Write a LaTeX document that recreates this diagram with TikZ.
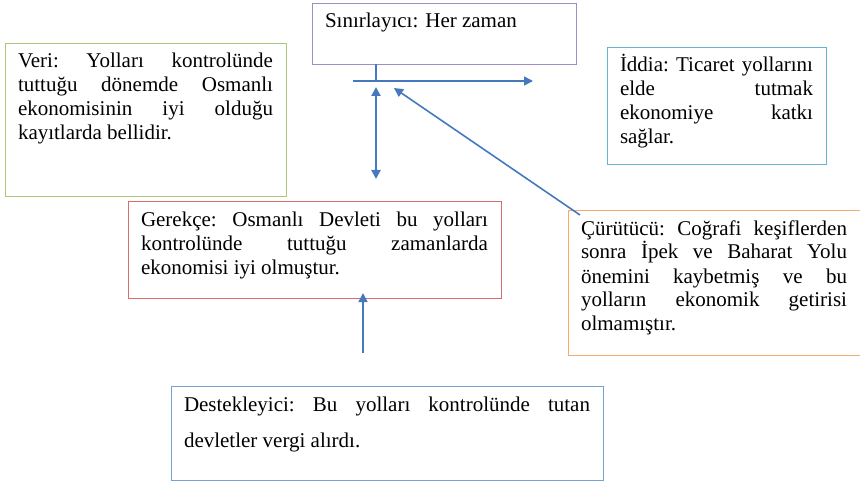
\documentclass[tikz,border=0pt]{standalone}
\usepackage{fontspec}
\setmainfont{Liberation Serif}
\usepackage{xcolor}
\usepackage{tikz}
\usetikzlibrary{arrows.meta}

\definecolor{limitcol}{RGB}{160,140,200}
\definecolor{datacol}{RGB}{170,200,120}
\definecolor{claimcol}{RGB}{100,180,210}
\definecolor{warrantcol}{RGB}{215,110,110}
\definecolor{rebutcol}{RGB}{245,170,110}
\definecolor{backcol}{RGB}{120,160,210}
\definecolor{linkcol}{RGB}{70,120,190}

\newcommand{\argtext}[3]{\parbox[t][#2][t]{#1}{\rule{0pt}{25pt}#3}}

\tikzset{
  argbox/.style={draw=#1, line width=0.9pt, anchor=north west, inner xsep=13pt,
    inner ysep=0pt, outer sep=0pt, font=\fontsize{21}{24}\selectfont},
  link/.style={draw=linkcol, line width=1.6pt}
}

\begin{document}
\begin{tikzpicture}[x=1pt, y=-1pt, >={Triangle[length=9pt,width=9pt]}]
    \useasboundingbox (0,0) rectangle (860,484);

    \node[argbox=limitcol] (limit) at (312,3) {\argtext{238pt}{61pt}{Sınırlayıcı: Her zaman}};

    \node[argbox=datacol] (veri) at (5,43) {\argtext{255pt}{153pt}{%
      Veri:\hfill Yolları\hfill kontrolünde\\
      tuttuğu\hfill dönemde\hfill Osmanlı\\
      ekonomisinin\hfill iyi\hfill olduğu\\
      kayıtlarda bellidir.}};

    \node[argbox=claimcol] (iddia) at (607,47) {\argtext{193pt}{117pt}{%
      İddia:\hfill Ticaret\hfill yollarını\\
      elde\hfill tutmak\\
      ekonomiye\hfill katkı\\
      sağlar.}};

    \node[argbox=warrantcol] (gerekce) at (128,201) {\argtext{347pt}{97pt}{%
      Gerekçe:\hfill Osmanlı\hfill Devleti\hfill bu\hfill yolları\\
      kontrolünde\hfill tuttuğu\hfill zamanlarda\\
      ekonomisi iyi olmuştur.}};

    \node[argbox=rebutcol] (curutucu) at (568,210) {\argtext{266pt}{145pt}{%
      Çürütücü:\hfill Coğrafi\hfill keşiflerden\\
      sonra\hfill İpek\hfill ve\hfill Baharat\hfill Yolu\\
      önemini\hfill kaybetmiş\hfill ve\hfill bu\\
      yolların\hfill ekonomik\hfill getirisi\\
      olmamıştır.}\hspace{12pt}};

    \node[argbox=backcol, font=\fontsize{21}{36}\selectfont] (destek) at (171,386) {\argtext{406pt}{94pt}{%
      Destekleyici:\hfill Bu\hfill yolları\hfill kontrolünde\hfill tutan\\
      devletler vergi alırdı.}};

    \coordinate (cross) at (376,81);
    \coordinate (left) at (353,81);
    \coordinate (right) at (533,81);
    \coordinate (uptip) at (376,87);
    \coordinate (downtip) at (376,179);
    \coordinate (hit) at (394,88);
    \coordinate (rebut) at (580,215);
    \coordinate (support) at (363,353);
    \coordinate (lift) at (363,293);

    \draw[link] (limit.south -| cross) -- (cross);
    \draw[link, ->] (left) -- (right);
    \draw[link, <->, line width=2.6pt] (uptip) -- (downtip);
    \draw[link, ->] (rebut) -- (hit);
    \draw[link, ->] (support) -- (lift);

\end{tikzpicture}
\end{document}
